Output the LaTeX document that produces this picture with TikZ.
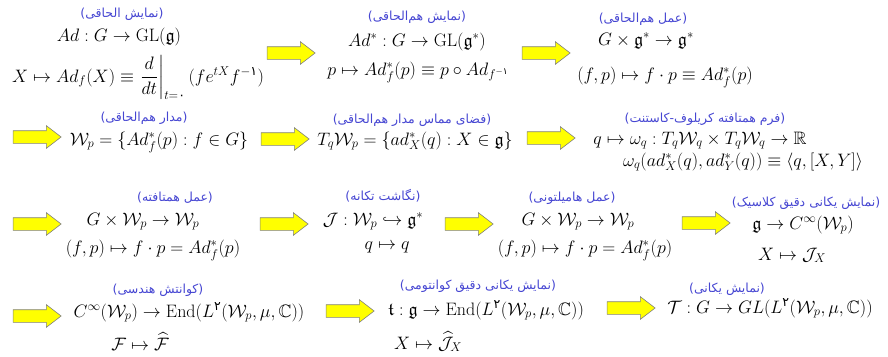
\RequirePackage{fix-cm}
\documentclass[tikz,border=0pt]{standalone}
\usepackage{amsmath, amssymb}
\usepackage{fontspec}
\usepackage{tikz}
\usetikzlibrary{shapes.arrows}
\newfontfamily\persfont[Script=Arabic]{DejaVu Sans}
\TeXXeTstate=1
\definecolor{lblBlue}{HTML}{4646D2}
\definecolor{arrYellow}{HTML}{FFFF00}
\newcommand{\fa}[1]{\text{\persfont #1}}
\newcommand{\lbl}[1]{{\persfont\beginR(#1)\endR}}
\tikzset{
  every node/.style={inner sep=0pt},
  eq/.style={font=\fontsize{18}{22}\selectfont, anchor=base},
  tag/.style={font=\persfont\fontsize{12.5}{14}\selectfont, text=lblBlue},
  fatArrow/.style={single arrow, draw=black!50, fill=arrYellow, line width=0.6pt,
    minimum height=48pt, inner xsep=0pt, inner ysep=6pt,
    single arrow head extend=5pt, single arrow tip angle=75},
}

\begin{document}
\begin{tikzpicture}[x=1pt, y=-1pt]
  \useasboundingbox (0,0) rectangle (888,356);
  % first row
  \node[tag] (adTag) at (122,14) {\lbl{نمایش الحاقی}};
  \node[eq] (adMap) at (119,41) {$Ad : G \to \mathrm{GL}(\mathfrak{g})$};
  \node[eq] (adDef) at (138,82)
    {$X \mapsto Ad_f(X) \equiv \left.\dfrac{d}{dt}\right|_{t=\fa{۰}} (f e^{tX} f^{-\fa{۱}})$};
  \node[fatArrow] (arA1) at (287,53) {};
  \node[tag] (coadTag) at (417,17) {\lbl{نمایش هم‌الحاقی}};
  \node[eq] (coadMap) at (417,46) {$Ad^* : G \to \mathrm{GL}(\mathfrak{g}^*)$};
  \node[eq] (coadDef) at (418,75) {$p \mapsto Ad_f^*(p) \equiv p \circ Ad_{f^{-\fa{۱}}}$};
  \node[fatArrow] (arA2) at (542,53) {};
  \node[tag] (actTag) at (643,19) {\lbl{عمل هم‌الحاقی}};
  \node[eq] (actMap) at (646,45) {$G \times \mathfrak{g}^* \to \mathfrak{g}^*$};
  \node[eq] (actDef) at (665,80) {$(f,p) \mapsto f\cdot p \equiv Ad_f^*(p)$};
  % second row
  \node[fatArrow] (arB0) at (33,137) {};
  \node[tag] (orbTag) at (144,118) {\lbl{مدار هم‌الحاقی}};
  \node[eq] (orbDef) at (159,145) {$\mathcal{W}_p = \{Ad_f^*(p) : f \in G\}$};
  \node[fatArrow] (arB1) at (281,139) {};
  \node[tag] (tanTag) at (412,120) {\lbl{فضای مماس مدار هم‌الحاقی}};
  \node[eq] (tanDef) at (415,145) {$T_q\mathcal{W}_p = \{ad_X^*(q) : X \in \mathfrak{g}\}$};
  \node[fatArrow] (arB2) at (547,138) {};
  \node[tag] (kkTag) at (705,119) {\lbl{فرم همتافته کریلوف-کاستنت}};
  \node[eq] (kkMap) at (700,144)
    {$q \mapsto \omega_q : T_q\mathcal{W}_q \times T_q\mathcal{W}_q \to \mathbb{R}$};
  \node[eq] (kkDef) at (743,166)
    {$\omega_q(ad_X^*(q), ad_Y^*(q)) \equiv \langle q, [X,Y]\rangle$};
  % third row
  \node[fatArrow] (arC0) at (33,224) {};
  \node[tag] (sympTag) at (175,198) {\lbl{عمل همتافته}};
  \node[eq] (sympMap) at (143,225) {$G \times \mathcal{W}_p \to \mathcal{W}_p$};
  \node[eq] (sympDef) at (153,253) {$(f,p) \mapsto f\cdot p = Ad_f^*(p)$};
  \node[fatArrow] (arC1) at (280,224) {};
  \node[tag] (momTag) at (383,196) {\lbl{نگاشت تکانه}};
  \node[eq] (momMap) at (373,225) {$\mathcal{J} : \mathcal{W}_p \hookrightarrow \mathfrak{g}^*$};
  \node[eq] (momDef) at (387,249) {$q \mapsto q$};
  \node[fatArrow] (arC2) at (465,224) {};
  \node[tag] (hamTag) at (572,198) {\lbl{عمل هامیلتونی}};
  \node[eq] (hamMap) at (578,225) {$G \times \mathcal{W}_p \to \mathcal{W}_p$};
  \node[eq] (hamDef) at (585,253) {$(f,p) \mapsto f\cdot p = Ad_f^*(p)$};
  \node[fatArrow] (arC3) at (702,223) {};
  \node[tag] (clTag) at (806,203) {\lbl{نمایش یکانی دقیق کلاسیک}};
  \node[eq] (clMap) at (803,229) {$\mathfrak{g} \to C^\infty(\mathcal{W}_p)$};
  \node[eq] (clDef) at (792,260) {$X \mapsto \mathcal{J}_X$};
  % fourth row
  \node[fatArrow] (arD0) at (33,316) {};
  \node[tag] (gqTag) at (158,290) {\lbl{کوانتش هندسی}};
  \node[eq] (gqMap) at (189,317)
    {$C^\infty(\mathcal{W}_p) \to \operatorname{End}(L^{\fa{۲}}(\mathcal{W}_p,\mu,\mathbb{C}))$};
  \node[eq] (gqDef) at (140,350) {$\mathcal{F} \mapsto \widehat{\mathcal{F}}$};
  \node[fatArrow] (arD1) at (346,311) {};
  \node[tag] (qTag) at (478,286) {\lbl{نمایش یکانی دقیق کوانتومی}};
  \node[eq] (qMap) at (486,315)
    {$\mathfrak{t} : \mathfrak{g} \to \operatorname{End}(L^{\fa{۲}}(\mathcal{W}_p,\mu,\mathbb{C}))$};
  \node[eq] (qDef) at (428,349) {$X \mapsto \widehat{\mathcal{J}}_X$};
  \node[fatArrow] (arD2) at (627,308) {};
  \node[tag] (uTag) at (727,289) {\lbl{نمایش یکانی}};
  \node[eq] (uMap) at (770,313)
    {$\mathcal{T} : G \to GL(L^{\fa{۲}}(\mathcal{W}_p,\mu,\mathbb{C}))$};
\end{tikzpicture}
\end{document}
